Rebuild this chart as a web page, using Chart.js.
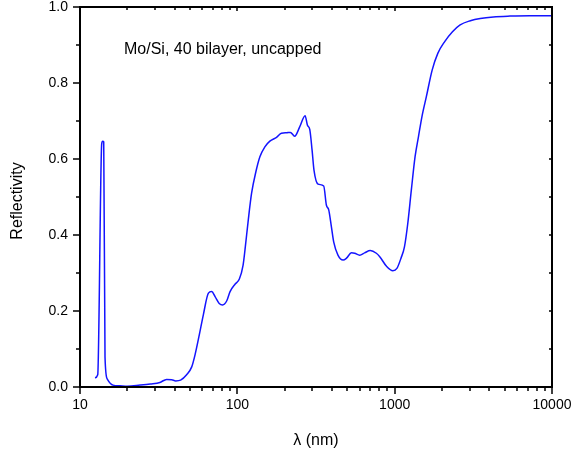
<!DOCTYPE html>
<html>
<head>
<meta charset="utf-8">
<script src="https://cdn.jsdelivr.net/npm/chart.js@4.4.0/dist/chart.umd.min.js"></script>
<style>
  html, body { margin: 0; padding: 0; background: #fff; }
  #wrap { width: 573px; height: 451px; }
</style>
</head>
<body>
<div id="wrap"><canvas id="chart" width="573" height="451"></canvas></div>
<script>
// Дані
const wavelength = [
  12.45, 12.96, 13.74, 13.94, 14.15, 14.42, 14.91, 16.2, 17.9, 20,
  24.1, 28, 32.2, 35.5, 38.3, 40.6, 43.6, 47.6, 51.3, 53.8,
  57.3, 60.8, 65.5, 68.7, 72.2, 76.7, 80.6, 85.7, 89.9, 96.9,
  103, 108.8, 111.8, 117.4, 123.2, 131.3, 139.1, 149.6, 161, 177.5,
  190.7, 205, 217.5, 231.5, 249.5, 269.6, 279, 288.6, 298.5, 307,
  325.9, 354, 368, 381, 396, 410, 436, 470, 494, 531,
  557, 599, 644, 700, 765, 804, 890, 974, 1033, 1097,
  1154, 1212, 1276, 1348, 1417, 1490, 1590, 1731, 1880, 2080,
  2330, 2607, 3026, 3500, 4240, 5410, 7200, 10000
];
const reflectivity = [
  0.024, 0.032, 0.640, 0.647, 0.645, 0.079, 0.021, 0.005, 0.003, 0.002,
  0.005, 0.008, 0.012, 0.020, 0.019, 0.016, 0.018, 0.032, 0.053, 0.084,
  0.137, 0.190, 0.247, 0.251, 0.238, 0.220, 0.216, 0.227, 0.251, 0.271,
  0.284, 0.321, 0.360, 0.440, 0.510, 0.567, 0.606, 0.632, 0.647, 0.657,
  0.668, 0.669, 0.670, 0.660, 0.685, 0.714, 0.689, 0.678, 0.624, 0.571,
  0.534, 0.529, 0.479, 0.466, 0.422, 0.381, 0.347, 0.334, 0.339, 0.353,
  0.352, 0.347, 0.353, 0.359, 0.352, 0.343, 0.317, 0.306, 0.312, 0.339,
  0.369, 0.431, 0.518, 0.606, 0.659, 0.711, 0.764, 0.834, 0.878, 0.909,
  0.935, 0.953, 0.964, 0.970, 0.974, 0.976, 0.977, 0.977
];
const xTickValues = [10, 100, 1000, 10000];
const yTickValues = [0, 0.2, 0.4, 0.6, 0.8, 1.0];
const yMinorValues = [0.1, 0.3, 0.5, 0.7, 0.9];
const noteText = 'Mo/Si, 40 bilayer, uncapped';
const xTitle = 'λ (nm)';
const yTitle = 'Reflectivity';

const FONT = 'Arial, "Liberation Sans", sans-serif';

// Рамка, штрихи та підписи
const framePlugin = {
  id: 'frame',
  afterDraw(chart) {
    const { ctx, chartArea: a, scales: { x, y } } = chart;
    ctx.save();
    ctx.strokeStyle = '#000';
    ctx.lineWidth = 2;
    ctx.strokeRect(a.left, a.top, a.right - a.left, a.bottom - a.top);

    ctx.lineWidth = 1.5;
    ctx.beginPath();
    // логарифмічні штрихи по X
    for (let d = 10; d < 10000; d *= 10) {
      for (let m = 1; m <= 10; m++) {
        const px = Math.round(x.getPixelForValue(d * m));
        const major = (m === 1 || m === 10);
        ctx.moveTo(px, a.bottom);
        ctx.lineTo(px, a.bottom + (major ? 7 : 4));
        ctx.moveTo(px, a.top);
        ctx.lineTo(px, a.top + (major ? 4 : 3));
      }
    }
    // штрихи по Y
    yTickValues.concat(yMinorValues).forEach(v => {
      const py = Math.round(y.getPixelForValue(v));
      const major = yTickValues.includes(v);
      ctx.moveTo(a.left, py);
      ctx.lineTo(a.left - (major ? 7 : 4), py);
      ctx.moveTo(a.right + 1, py);
      ctx.lineTo(a.right - 3, py);
    });
    ctx.stroke();

    ctx.fillStyle = '#000';
    ctx.font = '16px ' + FONT;
    ctx.textAlign = 'left';
    ctx.textBaseline = 'alphabetic';
    ctx.fillText(noteText, 124, 54);

    ctx.textAlign = 'center';
    ctx.textBaseline = 'middle';
    ctx.fillText(xTitle, (a.left + a.right) / 2, 441);

    ctx.translate(18, 201);
    ctx.rotate(-Math.PI / 2);
    ctx.fillText(yTitle, 0, 0);
    ctx.restore();
  }
};

function initChart() {
  const points = wavelength.map((w, i) => ({ x: w, y: reflectivity[i] }));
  const tickFont = { family: FONT, size: 14 };

  new Chart(document.getElementById('chart'), {
    type: 'scatter',
    data: {
      datasets: [{
        data: points,
        showLine: true,
        borderColor: '#1414ff',
        borderWidth: 1.5,
        pointRadius: 0,
        cubicInterpolationMode: 'monotone',
        fill: false
      }]
    },
    options: {
      responsive: false,
      animation: false,
      devicePixelRatio: 1,
      layout: { padding: { top: 7, right: 21, left: 0, bottom: 0 } },
      plugins: { legend: { display: false }, tooltip: { enabled: false } },
      scales: {
        x: {
          type: 'logarithmic',
          min: 10,
          max: 10000,
          afterBuildTicks: s => { s.ticks = xTickValues.map(v => ({ value: v })); },
          afterFit: s => { s.height = 64; s.paddingLeft = 0; s.paddingRight = 0; },
          ticks: {
            callback: v => String(v),
            font: tickFont, color: '#000', padding: 3,
            maxRotation: 0, autoSkip: false
          },
          grid: { display: true, drawOnChartArea: false, drawTicks: true, tickLength: 7, tickColor: 'rgba(0,0,0,0)' },
          border: { display: false }
        },
        y: {
          type: 'linear',
          min: 0,
          max: 1,
          afterBuildTicks: s => { s.ticks = yTickValues.map(v => ({ value: v })); },
          afterFit: s => { s.width = 80; s.paddingTop = 0; s.paddingBottom = 0; },
          ticks: {
            callback: v => v.toFixed(1),
            font: tickFont, color: '#000', padding: 5
          },
          grid: { display: true, drawOnChartArea: false, drawTicks: true, tickLength: 7, tickColor: 'rgba(0,0,0,0)' },
          border: { display: false }
        }
      }
    },
    plugins: [framePlugin]
  });
}

document.addEventListener('DOMContentLoaded', initChart);
</script>
</body>
</html>
